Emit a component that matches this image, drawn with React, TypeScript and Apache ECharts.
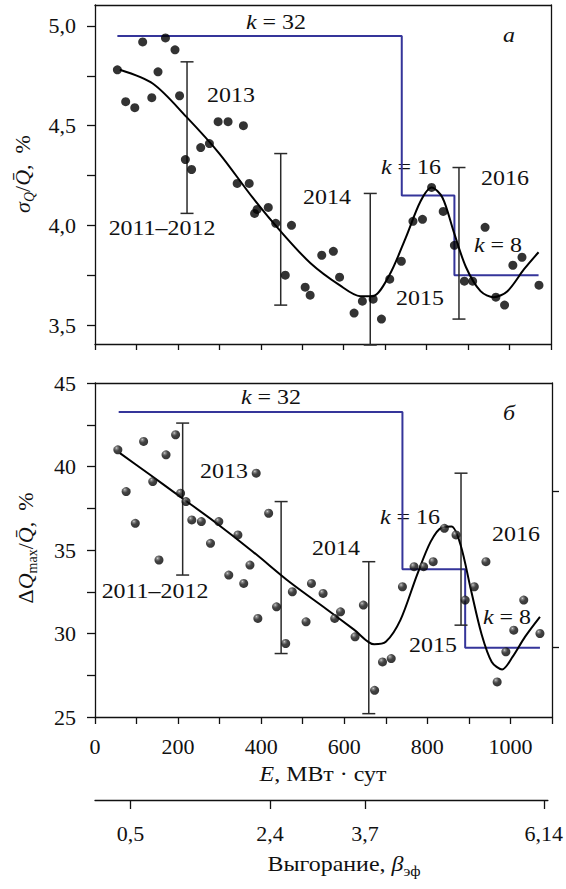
import React, { useEffect, useRef } from 'react';
import * as echarts from 'echarts';

// ---------- data ----------
const eTicks = [0, 100, 200, 300, 400, 500, 600, 700, 800, 900, 1000, 1100];
const eLabels = [0, 200, 400, 600, 800, 1000];

const sigmaTicks = [3.5, 3.75, 4.0, 4.25, 4.5, 4.75, 5.0];
const sigmaLabels = [3.5, 4.0, 4.5, 5.0];
const dqTicks = [25, 27.5, 30, 32.5, 35, 37.5, 40, 42.5, 45];
const dqLabels = [25, 30, 35, 40, 45];
const dqRightTicks = [38.5, 29.2];

const burnupTickE = [86, 425, 656, 1090];
const burnupLabels = ['0,5', '2,4', '3,7', '6,14'];

const topE = [54, 74, 96, 115, 137, 152, 170, 193, 204, 218, 233, 255, 276, 297, 321, 343, 358, 372, 385, 391, 418, 436, 459, 474, 507, 519, 547, 575, 590, 625, 645, 671, 691, 711, 739, 767, 790, 812, 840, 867, 891, 911, 941, 967, 988, 1008, 1030, 1071];
const topSigma = [4.78, 4.62, 4.59, 4.92, 4.64, 4.77, 4.94, 4.88, 4.65, 4.33, 4.28, 4.39, 4.41, 4.52, 4.52, 4.21, 4.50, 4.21, 4.06, 4.08, 4.09, 4.01, 3.75, 4.00, 3.69, 3.65, 3.85, 3.87, 3.74, 3.56, 3.62, 3.63, 3.53, 3.73, 3.82, 4.02, 4.03, 4.19, 4.07, 3.90, 3.72, 3.72, 3.99, 3.64, 3.60, 3.80, 3.84, 3.70];

const topFitE = [60, 140, 220, 300, 380, 450, 520, 590, 640, 670, 710, 750, 785, 812, 838, 865, 895, 930, 962, 995, 1035, 1070];
const topFitS = [4.78, 4.71, 4.545, 4.36, 4.14, 3.965, 3.81, 3.70, 3.645, 3.645, 3.75, 3.94, 4.12, 4.19, 4.14, 3.97, 3.79, 3.67, 3.64, 3.67, 3.78, 3.865];

const topStepE = [54, 740, 740, 867, 867, 1070];
const topStepS = [4.95, 4.95, 4.15, 4.15, 3.75, 3.75];

const topErrE = [222, 448, 664, 878];
const topErrLo = [4.06, 3.60, 3.40, 3.53];
const topErrHi = [4.82, 4.36, 4.16, 4.29];

const botE = [55, 75, 97, 117, 139, 154, 171, 194, 206, 219, 233, 256, 278, 298, 322, 344, 358, 373, 388, 392, 418, 437, 459, 475, 508, 521, 549, 577, 591, 626, 646, 673, 692, 713, 740, 768, 791, 814, 841, 869, 891, 913, 941, 968, 989, 1008, 1032, 1071];
const botDQ = [41.0, 38.5, 36.6, 41.5, 39.1, 34.4, 40.7, 41.9, 38.4, 37.9, 36.8, 36.7, 35.4, 36.7, 33.5, 35.9, 33.0, 34.1, 39.6, 30.9, 37.2, 31.6, 29.4, 32.5, 30.7, 33.0, 32.4, 30.9, 31.3, 29.8, 31.7, 26.6, 28.3, 28.5, 32.8, 34.0, 34.0, 34.3, 36.3, 35.9, 32.0, 32.8, 34.3, 27.1, 28.9, 30.2, 32.0, 30.0];

const botFitE = [60, 130, 210, 290, 380, 470, 555, 625, 672, 700, 735, 775, 808, 835, 858, 880, 905, 930, 955, 980, 1005, 1035, 1071];
const botFitV = [40.8, 39.55, 38.1, 36.65, 34.9, 33.05, 31.5, 30.2, 29.35, 29.5, 30.8, 33.5, 35.5, 36.35, 36.4, 35.3, 32.6, 30.0, 28.3, 27.85, 28.6, 29.8, 31.0];

const botStepE = [57, 740, 740, 891, 891, 1071];
const botStepV = [43.27, 43.27, 33.84, 33.84, 29.14, 29.14];

const botErrE = [211, 448, 659, 881];
const botErrLo = [33.5, 28.8, 25.2, 30.5];
const botErrHi = [42.6, 37.9, 34.3, 39.6];

// ---------- styles ----------
const FONT = 'Liberation Serif';
const AX = '#111';
const BLUE = '#35359a';
const FS = 22;

const pairs = (xs: number[], ys: number[]) => xs.map((x, i) => [x, ys[i]]);
const comma = (v: number) => v.toFixed(1).replace('.', ',');

const rich = (size: number) => ({
  n: { fontFamily: FONT, fontSize: size, color: '#111', lineHeight: 28 },
  i: { fontFamily: FONT, fontSize: size, color: '#111', fontStyle: 'italic', lineHeight: 28 },
  sub: { fontFamily: FONT, fontSize: Math.round(size * 0.65), color: '#111', fontStyle: 'italic', verticalAlign: 'bottom', lineHeight: 13 },
  subn: { fontFamily: FONT, fontSize: Math.round(size * 0.65), color: '#111', verticalAlign: 'bottom', lineHeight: 13 },
});

function errorSeries(xi: number, yi: number, es: number[], lo: number[], hi: number[]) {
  return {
    type: 'custom',
    xAxisIndex: xi,
    yAxisIndex: yi,
    data: es.map((e, i) => [e, lo[i], hi[i]]),
    encode: { x: 0, y: [1, 2] },
    clip: false,
    z: 3,
    renderItem: (_p: any, api: any) => {
      const a = api.coord([api.value(0), api.value(1)]);
      const b = api.coord([api.value(0), api.value(2)]);
      const w = 6.5;
      const st = { stroke: '#2a2a2a', lineWidth: 1.5 };
      return {
        type: 'group',
        children: [
          { type: 'line', shape: { x1: a[0], y1: a[1], x2: b[0], y2: b[1] }, style: st },
          { type: 'line', shape: { x1: a[0] - w, y1: a[1], x2: a[0] + w, y2: a[1] }, style: st },
          { type: 'line', shape: { x1: b[0] - w, y1: b[1], x2: b[0] + w, y2: b[1] }, style: st },
        ],
      };
    },
  };
}

const frameX = (g: number) => ({
  type: 'value', gridIndex: g, min: 0, max: 1100, position: 'top',
  axisLine: { show: true, lineStyle: { color: AX, width: 1.3 } },
  axisTick: { show: false }, axisLabel: { show: false }, splitLine: { show: false },
});

const annotations = [
  { t: '{i|k}{n| = 32}', x: 276, y: 22 },
  { t: '{i|а}', x: 509, y: 35 },
  { t: '{n|2013}', x: 231, y: 95 },
  { t: '{n|2011–2012}', x: 162, y: 228 },
  { t: '{n|2014}', x: 327, y: 197 },
  { t: '{i|k}{n| = 16}', x: 411, y: 167 },
  { t: '{n|2016}', x: 505, y: 178 },
  { t: '{i|k}{n| = 8}', x: 498, y: 245 },
  { t: '{n|2015}', x: 420, y: 298 },
  { t: '{i|k}{n| = 32}', x: 271, y: 397 },
  { t: '{i|б}', x: 509, y: 413 },
  { t: '{n|2013}', x: 224, y: 471 },
  { t: '{n|2011–2012}', x: 155, y: 591 },
  { t: '{n|2014}', x: 336, y: 548 },
  { t: '{i|k}{n| = 16}', x: 410, y: 517 },
  { t: '{n|2016}', x: 516, y: 534 },
  { t: '{i|k}{n| = 8}', x: 507, y: 617 },
  { t: '{n|2015}', x: 433, y: 645 },
];

export default function App() {
  const ref = useRef<HTMLDivElement>(null);
  useEffect(() => {
    const chart = echarts.init(ref.current!, null, { renderer: 'svg' });
    const sphere = new echarts.graphic.RadialGradient(0.35, 0.3, 0.75, [
      { offset: 0, color: '#d0d0d0' },
      { offset: 0.14, color: '#707070' },
      { offset: 0.45, color: '#151515' },
      { offset: 1, color: '#000' },
    ]);
    const txt = (t: string, x: number, y: number, rot = 0, size = 21, sx = 1.14) => ({
      type: 'text', x, y, rotation: rot, scaleX: sx,
      style: {
        text: t, rich: rich(size), fontFamily: FONT, fontSize: size, fill: '#111',
        align: 'center', verticalAlign: 'middle', textAlign: 'center', textVerticalAlign: 'middle',
      },
    });
    const lbl = { fontFamily: FONT, fontSize: FS, color: '#111' };
    const option: any = {
      animation: false,
      backgroundColor: '#fff',
      textStyle: { fontFamily: FONT },
      grid: [
        { left: 95, top: 5, width: 456, height: 339 },
        { left: 95, top: 383, width: 457, height: 334 },
        { left: 95, top: 799, width: 456, height: 1 },
      ],
      xAxis: [
        {
          type: 'value', gridIndex: 0, min: 0, max: 1100, position: 'bottom',
          axisLine: { show: true, onZero: false, lineStyle: { color: AX, width: 1.3 } },
          axisTick: { show: true, customValues: eTicks, length: 6, lineStyle: { color: AX, width: 1.3 } },
          axisLabel: { show: false }, splitLine: { show: false },
        },
        frameX(0),
        {
          type: 'value', gridIndex: 1, min: 0, max: 1100, position: 'bottom',
          axisLine: { show: true, onZero: false, lineStyle: { color: AX, width: 1.3 } },
          axisTick: { show: true, customValues: eTicks, length: 7, lineStyle: { color: AX, width: 1.3 } },
          axisLabel: { show: true, customValues: eLabels, margin: 18, ...lbl, formatter: (v: number) => String(v) },
          splitLine: { show: false },
        },
        frameX(1),
        {
          type: 'value', gridIndex: 2, min: 0, max: 1100, position: 'bottom',
          axisLine: { show: true, onZero: false, lineStyle: { color: AX, width: 1.3 } },
          axisTick: { show: true, customValues: burnupTickE, length: 9, lineStyle: { color: AX, width: 1.3 } },
          axisLabel: {
            show: true, customValues: burnupTickE, margin: 22, ...lbl,
            formatter: (v: number) => burnupLabels[burnupTickE.indexOf(v)] ?? '',
          },
          splitLine: { show: false },
        },
      ],
      yAxis: [
        {
          type: 'value', gridIndex: 0, min: 3.405, max: 5.105, position: 'left',
          axisLine: { show: true, onZero: false, lineStyle: { color: AX, width: 1.3 } },
          axisTick: { show: true, customValues: sigmaTicks, length: 8, lineStyle: { color: AX, width: 1.3 } },
          axisLabel: { show: true, customValues: sigmaLabels, margin: 19, ...lbl, formatter: comma },
          splitLine: { show: false },
        },
        {
          type: 'value', gridIndex: 0, min: 3.405, max: 5.105, position: 'right',
          axisLine: { show: true, onZero: false, lineStyle: { color: AX, width: 1.3 } },
          axisTick: { show: false }, axisLabel: { show: false }, splitLine: { show: false },
        },
        {
          type: 'value', gridIndex: 1, min: 25, max: 45, position: 'left',
          axisLine: { show: true, onZero: false, lineStyle: { color: AX, width: 1.3 } },
          axisTick: { show: true, customValues: dqTicks, length: 8, lineStyle: { color: AX, width: 1.3 } },
          axisLabel: { show: true, customValues: dqLabels, margin: 19, ...lbl, formatter: (v: number) => String(v) },
          splitLine: { show: false },
        },
        {
          type: 'value', gridIndex: 1, min: 25, max: 45, position: 'right',
          axisLine: { show: true, onZero: false, lineStyle: { color: AX, width: 1.3 } },
          axisTick: { show: true, customValues: dqRightTicks, length: 7, lineStyle: { color: AX, width: 1.3 } },
          axisLabel: { show: false }, splitLine: { show: false },
        },
        { type: 'value', gridIndex: 2, show: false, min: 0, max: 1 },
      ],
      series: [
        {
          type: 'line', xAxisIndex: 0, yAxisIndex: 0, data: pairs(topStepE, topStepS), symbol: 'none',
          lineStyle: { color: BLUE, width: 2 }, z: 2,
        },
        {
          type: 'line', xAxisIndex: 0, yAxisIndex: 0, data: pairs(topFitE, topFitS), symbol: 'none', smooth: 0.3,
          lineStyle: { color: '#000', width: 2 }, z: 3,
        },
        errorSeries(0, 0, topErrE, topErrLo, topErrHi),
        {
          type: 'scatter', xAxisIndex: 0, yAxisIndex: 0, data: pairs(topE, topSigma), symbol: 'circle', symbolSize: 9,
          itemStyle: { color: '#000' }, z: 4,
        },
        {
          type: 'line', xAxisIndex: 2, yAxisIndex: 2, data: pairs(botStepE, botStepV), symbol: 'none',
          lineStyle: { color: BLUE, width: 2 }, z: 2,
        },
        {
          type: 'line', xAxisIndex: 2, yAxisIndex: 2, data: pairs(botFitE, botFitV), symbol: 'none', smooth: 0.3,
          lineStyle: { color: '#000', width: 2 }, z: 3,
        },
        errorSeries(2, 2, botErrE, botErrLo, botErrHi),
        {
          type: 'scatter', xAxisIndex: 2, yAxisIndex: 2, data: pairs(botE, botDQ), symbol: 'circle', symbolSize: 9,
          itemStyle: { color: sphere }, z: 4,
        },
      ],
      graphic: [
        ...annotations.map((a) => txt(a.t, a.x, a.y)),
        txt('{i|σ}{sub|Q}{n|/}{i|Q̄}{n|,  %}', 22, 174, Math.PI / 2, 22, 1),
        txt('{n|Δ}{i|Q}{subn|max}{n|/}{i|Q̄}{n|,  %}', 25, 548, Math.PI / 2, 22, 1),
        txt('{i|E}{n|, МВт · сут}', 323, 774),
        txt('{n|Выгорание, }{i|β}{subn|эф}', 344, 864),
      ],
    };
    chart.setOption(option);
    return () => chart.dispose();
  }, []);
  return (
    <div
      ref={ref}
      style={{ position: 'fixed', left: 0, top: 0, width: 566, height: 889, background: '#fff' }}
    />
  );
}
